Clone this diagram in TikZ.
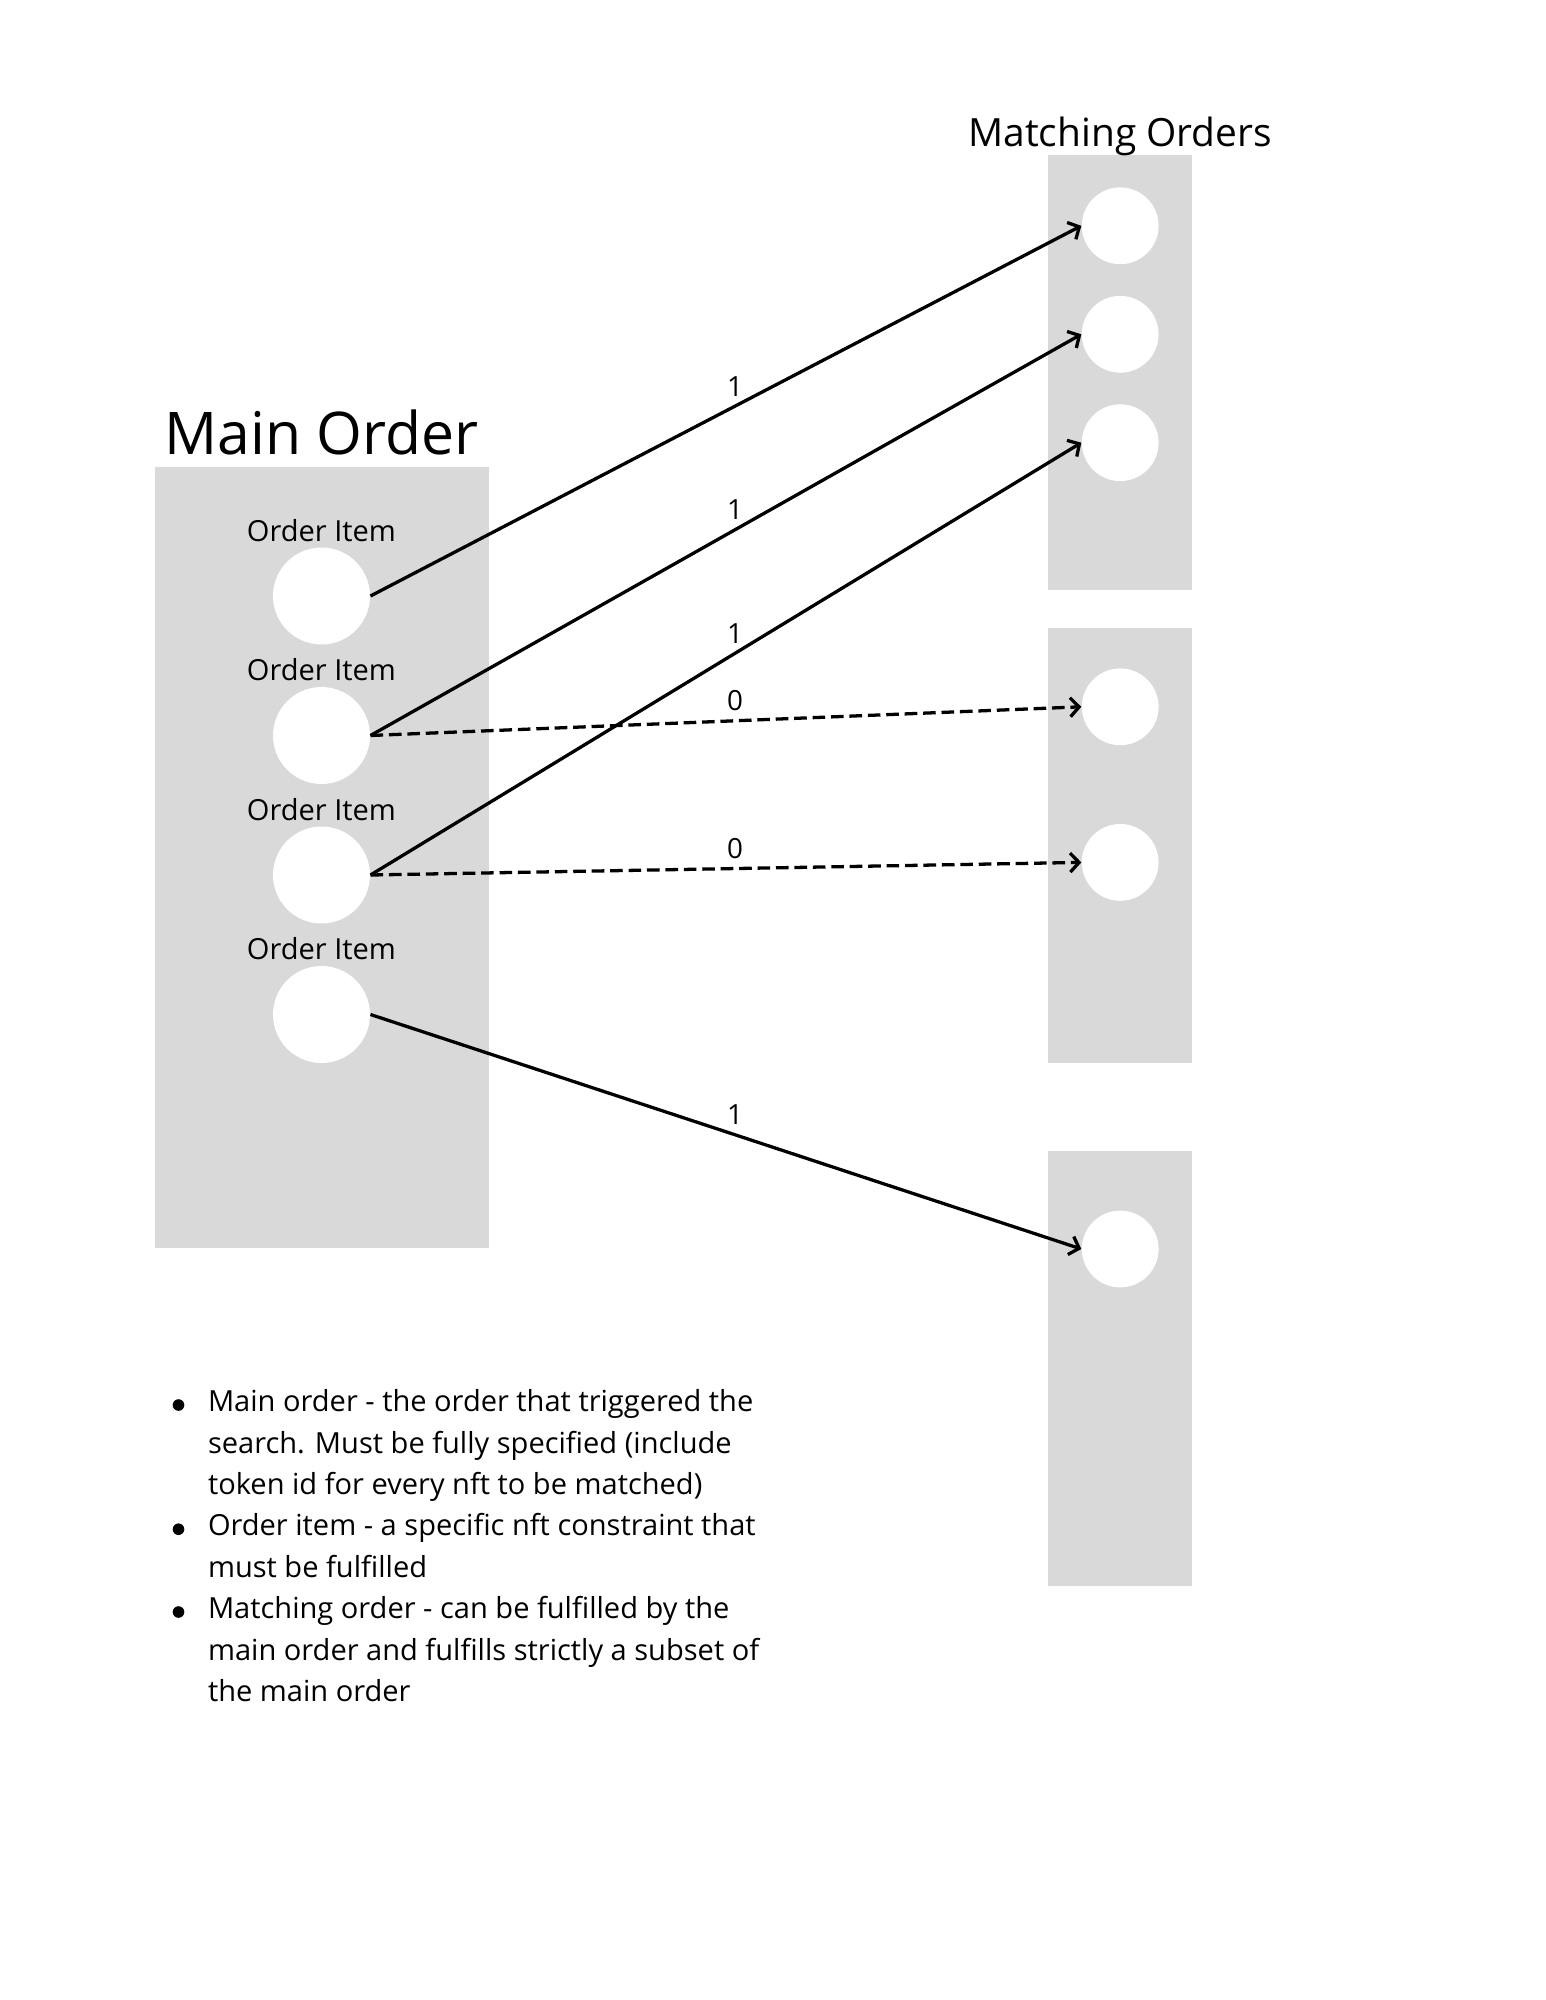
\documentclass[tikz,border=0pt]{standalone}
\usepackage{fontspec}
\setmainfont{Open Sans}
\usepackage{tikz}
\usetikzlibrary{arrows.meta,positioning}
\definecolor{boxgray}{HTML}{D9D9D9}
\tikzset{
  orderbox/.style={
    fill=boxgray
  },
  item/.style={
    shape = circle,
    fill = white,
    inner sep = 0pt,
    minimum size = 38.4pt
  },
  match/.style={
    shape = circle,
    fill = white,
    inner sep = 0pt,
    minimum size = 30.4pt
  },
  link/.style={
    line width=1.3pt,
    -{Straight Barb[length=3.5pt,width=7.5pt,line width=1.3pt]}
  },
  nolink/.style={
    link,
    dash pattern=on 5pt off 2.3pt
  },
  weight/.style={
    pos=0.513,
    above,
    font=\fontsize{11}{13}\selectfont
  },
  itemlbl/.style={
    anchor=base,
    font=\fontsize{11.5}{14}\selectfont
  },
  note/.style={
    anchor=base west,
    align=left,
    inner sep=0pt,
    font=\fontsize{11.5}{16.4}\selectfont
  },
  dot/.style={
    shape=circle,
    fill=black,
    inner sep=0pt,
    minimum size=4.6pt
  }
}

\begin{document}
\begin{tikzpicture}[x=0.396pt,y=-0.396pt]
        \useasboundingbox (0,0) rectangle (1545,2000);

        % boxes
        \fill[orderbox] (154.5,467) rectangle (488.5,1248);
        \fill[orderbox] (1047.5,155.5) rectangle (1191.5,589.5);
        \fill[orderbox] (1047.5,627.5) rectangle (1191.5,1062.5);
        \fill[orderbox] (1047.5,1151) rectangle (1191.5,1586);

        \node[anchor=base, font=\fontsize{23.3}{28}\selectfont] (main) at (321.5,454) {Main Order};
        \node[anchor=base, font=\fontsize{15.4}{19}\selectfont] (matching) at (1120.2,146.7) {Matching Orders};

        % order items
        \node[item] (o1) at (321.5,596) {};
        \node[item] (o2) at (321.5,735.5) {};
        \node[item] (o3) at (321.5,875) {};
        \node[item] (o4) at (321.5,1014.5) {};
        \node[itemlbl] (l1) at (321.5,541) {Order Item};
        \node[itemlbl] (l2) at (321.5,680.5) {Order Item};
        \node[itemlbl] (l3) at (321.5,820) {Order Item};
        \node[itemlbl] (l4) at (321.5,959.5) {Order Item};

        % matching order items
        \node[match] (m1) at (1120.2,225.8) {};
        \node[match] (m2) at (1120.2,334.3) {};
        \node[match] (m3) at (1120.2,442.7) {};
        \node[match] (m4) at (1120.2,706.8) {};
        \node[match] (m5) at (1120.2,862.4) {};
        \node[match] (m6) at (1120.2,1249) {};

        \draw[link] (o1.east) -- (m1.west) node[weight] {1};
        \draw[link] (o2.east) -- (m2.west) node[weight] {1};
        \draw[link] (o3.east) -- (m3.west) node[weight] {1};
        \draw[nolink] (o2.east) -- (m4.west) node[weight] {0};
        \draw[nolink] (o3.east) -- (m5.west) node[weight] {0};
        \draw[link] (o4.east) -- (m6.west) node[weight] {1};

        % notes
        \node[dot] (d1) at (178.5,1405) {};
        \node[dot] (d2) at (178.5,1529.2) {};
        \node[dot] (d3) at (178.5,1612) {};
        \node[note] (n1) at (207.5,1494.5) {Main order - the order that triggered the\\search. Must be fully specified (include\\token id for every nft to be matched)};
        \node[note] (n2) at (207.5,1577.3) {Order item - a specific nft constraint that\\must be fulfilled};
        \node[note] (n3) at (207.5,1701.5) {Matching order - can be fulfilled by the\\main order and fulfills strictly a subset of\\the main order};
    \end{tikzpicture}
\end{document}
